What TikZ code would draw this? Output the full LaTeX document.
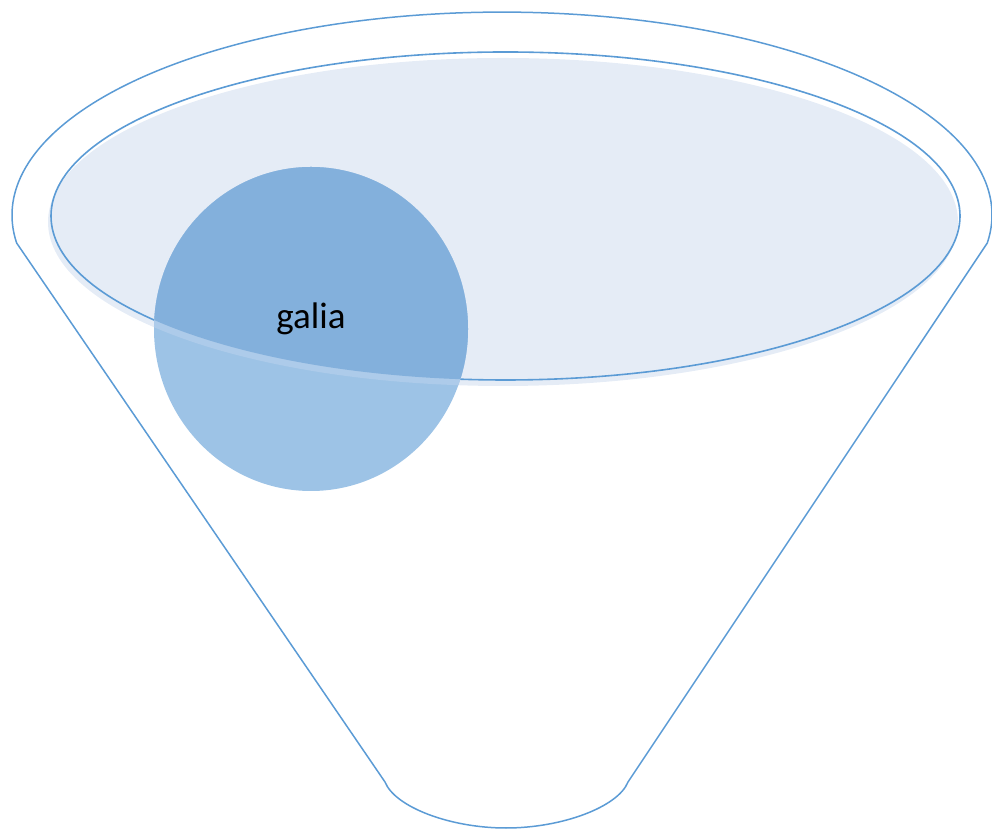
\documentclass[tikz,border=0pt]{standalone}
\usepackage{fontspec}
\setmainfont{Carlito}
\definecolor{edgeblue}{HTML}{5B9BD5}
\definecolor{paleblue}{HTML}{E5ECF6}
\definecolor{circblue}{HTML}{9DC3E6}
\definecolor{darkblue}{HTML}{83B0DC}
\definecolor{bandblue}{HTML}{ADCBEA}
\begin{document}
\begin{tikzpicture}[x=1pt,y=1pt,
  funnelline/.style={draw=edgeblue,line width=1.5pt,line join=round},
  rimline/.style={draw=edgeblue,line width=1.6pt}]
\useasboundingbox (0,0) rectangle (992,829);
% funnel body
\draw[funnelline] (987.3,586) arc[start angle=-7.9,end angle=187.9,x radius=490,y radius=203]
  -- (385,47) .. controls (395,22) and (450,1) .. (506,1)
  .. controls (562,1) and (618,22) .. (628,47) -- cycle;
% rim fill and outline
\fill[paleblue] (503,607) ellipse[x radius=455,y radius=164];
\draw[rimline] (505.5,613) ellipse[x radius=454.5,y radius=164];
% circle
\fill[circblue] (311,500) ellipse[x radius=157,y radius=162];
\begin{scope}
  \clip (311,500) ellipse[x radius=157,y radius=162];
  \fill[bandblue] (503,607) ellipse[x radius=455,y radius=164];
  \fill[darkblue] (505.5,613) ellipse[x radius=454.5,y radius=164];
\end{scope}
\node[font=\fontsize{37}{42}\selectfont,inner sep=0pt] (galia) at (311,510) {galia};
\end{tikzpicture}
\end{document}
